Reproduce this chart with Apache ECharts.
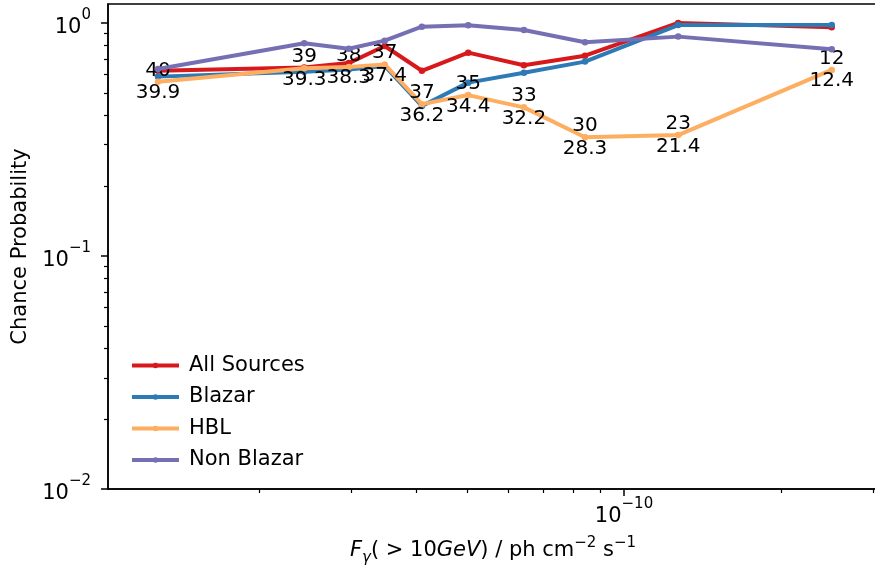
<!DOCTYPE html>
<html>
<head>
<meta charset="utf-8">
<script src="https://cdn.jsdelivr.net/npm/echarts@6/dist/echarts.min.js"></script>
<style>
  html, body { margin: 0; padding: 0; background: #ffffff; }
  #chart { width: 875px; height: 567px; }
</style>
</head>
<body>
<div id="chart"></div>
<script>
// Integral flux thresholds, F(>10 GeV) in ph cm^-2 s^-1
const flux = [1.28e-11, 2.44e-11, 2.97e-11, 3.48e-11, 4.10e-11, 5.03e-11, 6.43e-11, 8.42e-11, 1.27e-10, 2.50e-10];

// Chance probability per source class
const allSources = [0.623, 0.643, 0.672, 0.796, 0.623, 0.745, 0.658, 0.723, 1.0, 0.957];
const blazar     = [0.588, 0.617, 0.631, 0.653, 0.440, 0.554, 0.611, 0.682, 0.979, 0.979];
const hbl        = [0.559, 0.639, 0.647, 0.663, 0.448, 0.490, 0.434, 0.323, 0.330, 0.628];
const nonBlazar  = [0.634, 0.817, 0.775, 0.839, 0.963, 0.977, 0.932, 0.826, 0.873, 0.770];

// HBL annotations: observed count (upper) and expected count (lower)
const hblObserved = [40, 39, 38, 37, 37, 35, 33, 30, 23, 12];
const hblExpected = ['39.9', '39.3', '38.3', '37.4', '36.2', '34.4', '32.2', '28.3', '21.4', '12.4'];

const seriesNames  = ['All Sources', 'Blazar', 'HBL', 'Non Blazar'];
const seriesValues = [allSources, blazar, hbl, nonBlazar];
const seriesColors = ['#d7191c', '#2c7bb6', '#fdae61', '#7570b3'];

// Tick positions on the logarithmic axes
const xMajorTicks = [1e-10];
const xMinorTicks = [2e-11, 3e-11, 4e-11, 5e-11, 6e-11, 7e-11, 8e-11, 9e-11, 2e-10, 3e-10];
const yMajorTicks = [1e-2, 1e-1, 1];
const yMinorTicks = [0.02, 0.03, 0.04, 0.05, 0.06, 0.07, 0.08, 0.09,
                     0.2, 0.3, 0.4, 0.5, 0.6, 0.7, 0.8, 0.9];

const FONT = 'DejaVu Sans';
const xRange = [1.0268e-11, 3.066e-10];
const yRange = [0.01, 1.205];

function powerLabel(v) {
  const e = Math.round(Math.log10(v));
  const exp = e < 0 ? '\u2212' + (-e) : String(e);
  return '{b|10}{s|' + exp + '}';
}

const powerRich = {
  b: { fontFamily: FONT, fontSize: 21, color: '#000', lineHeight: 30, verticalAlign: 'bottom' },
  s: { fontFamily: FONT, fontSize: 15, color: '#000', lineHeight: 15, verticalAlign: 'top' }
};

const chart = echarts.init(document.getElementById('chart'), null, { renderer: 'canvas' });

const series = seriesNames.map((name, k) => {
  const s = {
    name: name,
    type: 'line',
    xAxisIndex: 0,
    yAxisIndex: 0,
    data: flux.map((x, i) => [x, seriesValues[k][i]]),
    symbol: 'circle',
    symbolSize: 6.5,
    showSymbol: true,
    lineStyle: { width: 4, color: seriesColors[k] },
    itemStyle: { color: seriesColors[k] },
    emphasis: { disabled: true },
    z: 2 + k
  };
  if (name === 'HBL') {
    s.label = {
      show: true,
      position: 'inside',
      color: '#000',
      formatter: p => '{a|' + hblObserved[p.dataIndex] + '}\n{a|' + hblExpected[p.dataIndex] + '}',
      rich: { a: { fontFamily: FONT, fontSize: 20, lineHeight: 22.5, color: '#000', align: 'center' } }
    };
  }
  return s;
});

const option = {
  animation: false,
  backgroundColor: '#ffffff',
  grid: {
    left: 108, right: -3, top: 4, bottom: 78,
    show: true, borderColor: '#000', borderWidth: 1.5, backgroundColor: 'transparent',
    outerBoundsMode: 'none'
  },
  legend: {
    orient: 'vertical',
    left: 125,
    top: 350,
    itemWidth: 47,
    itemHeight: 7,
    itemGap: 10.5,
    data: seriesNames,
    lineStyle: { width: 4 },
    textStyle: { fontFamily: FONT, fontSize: 21, color: '#000', lineHeight: 21, padding: [0, 0, 0, 5] }
  },
  xAxis: [
    {
      type: 'log', logBase: 10, min: xRange[0], max: xRange[1],
      position: 'bottom',
      axisLine: { show: true, lineStyle: { color: '#000', width: 1.5 } },
      axisTick: { show: true, inside: false, length: 7, lineStyle: { color: '#000', width: 1.5 }, customValues: xMajorTicks },
      axisLabel: {
        show: true, margin: 8, customValues: xMajorTicks,
        formatter: powerLabel, rich: powerRich
      },
      splitLine: { show: false },
      minorTick: { show: false },
      name: '{i|F}{sub|\u03b3}{n|( > 10}{i|GeV}{n|) / ph cm}{sup|\u22122}{n| s}{sup|\u22121}',
      nameLocation: 'middle',
      nameGap: 47,
      nameTextStyle: {
        fontFamily: FONT, fontSize: 21, color: '#000',
        rich: {
          n: { fontFamily: FONT, fontSize: 21, color: '#000', lineHeight: 30, verticalAlign: 'middle' },
          i: { fontFamily: FONT, fontSize: 21, color: '#000', fontStyle: 'italic', lineHeight: 30, verticalAlign: 'middle' },
          sub: { fontFamily: FONT, fontSize: 15, color: '#000', fontStyle: 'italic', lineHeight: 15, verticalAlign: 'bottom' },
          sup: { fontFamily: FONT, fontSize: 15, color: '#000', lineHeight: 15, verticalAlign: 'top' }
        }
      }
    },
    {
      type: 'log', logBase: 10, min: xRange[0], max: xRange[1],
      position: 'bottom',
      axisLine: { show: false },
      axisTick: { show: true, inside: false, length: 4, lineStyle: { color: '#000', width: 1.2 }, customValues: xMinorTicks },
      axisLabel: { show: false },
      splitLine: { show: false }
    }
  ],
  yAxis: [
    {
      type: 'log', logBase: 10, min: yRange[0], max: yRange[1],
      position: 'left',
      axisLine: { show: true, lineStyle: { color: '#000', width: 1.5 } },
      axisTick: { show: true, inside: false, length: 7, lineStyle: { color: '#000', width: 1.5 }, customValues: yMajorTicks },
      axisLabel: {
        show: true, margin: 17, customValues: yMajorTicks,
        formatter: powerLabel, rich: powerRich
      },
      splitLine: { show: false },
      name: 'Chance Probability',
      nameLocation: 'middle',
      nameGap: 75,
      nameTextStyle: { fontFamily: FONT, fontSize: 21, color: '#000' }
    },
    {
      type: 'log', logBase: 10, min: yRange[0], max: yRange[1],
      position: 'left',
      axisLine: { show: false },
      axisTick: { show: true, inside: false, length: 4, lineStyle: { color: '#000', width: 1.2 }, customValues: yMinorTicks },
      axisLabel: { show: false },
      splitLine: { show: false }
    }
  ],
  series: series
};

chart.setOption(option);
</script>
</body>
</html>
